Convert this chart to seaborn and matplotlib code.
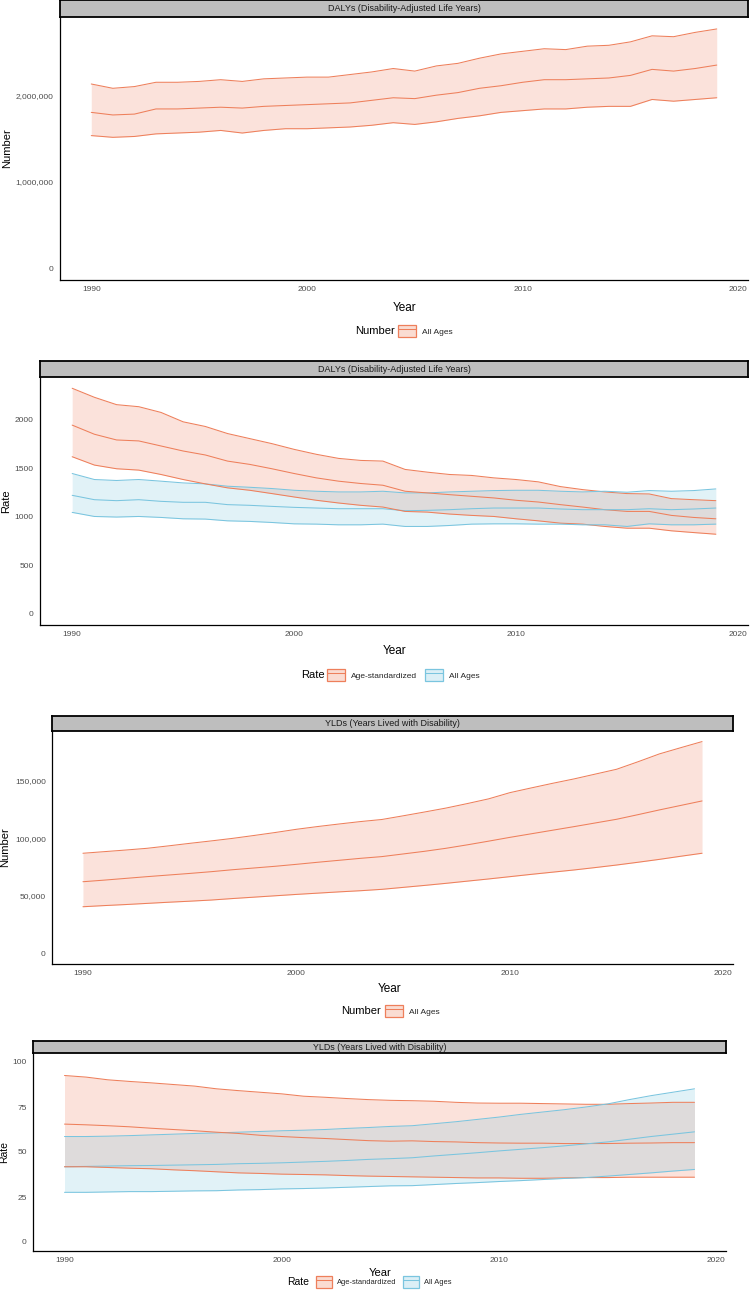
import numpy as np
import pandas as pd
import matplotlib
matplotlib.use("Agg")
import matplotlib.pyplot as plt
import seaborn as sns
from matplotlib.patches import Patch
from matplotlib.lines import Line2D
from matplotlib.ticker import FuncFormatter

years = list(range(1990, 2020))

# DALYs, number, all ages
daly_num_val = [1810000, 1780000, 1790000, 1850000, 1850000, 1860000, 1870000, 1860000, 1880000, 1890000,
                1900000, 1910000, 1920000, 1950000, 1980000, 1970000, 2010000, 2040000, 2090000, 2120000,
                2160000, 2190000, 2190000, 2200000, 2210000, 2240000, 2310000, 2290000, 2320000, 2360000]
daly_num_upper = [2140000, 2090000, 2110000, 2160000, 2160000, 2170000, 2190000, 2170000, 2200000, 2210000,
                  2220000, 2220000, 2250000, 2280000, 2320000, 2290000, 2350000, 2380000, 2440000, 2490000,
                  2520000, 2550000, 2540000, 2580000, 2590000, 2630000, 2700000, 2690000, 2740000, 2780000]
daly_num_lower = [1540000, 1520000, 1530000, 1560000, 1570000, 1580000, 1600000, 1570000, 1600000, 1620000,
                  1620000, 1630000, 1640000, 1660000, 1690000, 1670000, 1700000, 1740000, 1770000, 1810000,
                  1830000, 1850000, 1850000, 1870000, 1880000, 1880000, 1960000, 1940000, 1960000, 1980000]

# DALYs, rate, age-standardized
daly_asr_val = [1945, 1851, 1792, 1782, 1730, 1678, 1637, 1574, 1540, 1495, 1446, 1401, 1367, 1343, 1325,
                1263, 1246, 1228, 1211, 1194, 1170, 1152, 1125, 1100, 1073, 1055, 1055, 1014, 993, 979]
daly_asr_upper = [2325, 2232, 2156, 2135, 2076, 1979, 1931, 1858, 1806, 1754, 1695, 1644, 1602, 1581, 1574,
                  1488, 1460, 1436, 1426, 1401, 1384, 1360, 1311, 1280, 1256, 1239, 1235, 1187, 1176, 1166]
daly_asr_lower = [1619, 1533, 1495, 1481, 1436, 1384, 1339, 1298, 1273, 1239, 1204, 1170, 1142, 1118, 1100,
                  1055, 1048, 1028, 1014, 1003, 979, 958, 934, 924, 900, 882, 882, 855, 837, 820]
# DALYs, rate, all ages
daly_all_val = [1221, 1176, 1166, 1176, 1159, 1149, 1149, 1125, 1118, 1107, 1097, 1090, 1083, 1083, 1083,
                1062, 1066, 1073, 1083, 1090, 1090, 1090, 1080, 1073, 1073, 1073, 1083, 1073, 1080, 1090]
daly_all_upper = [1446, 1384, 1374, 1384, 1367, 1349, 1339, 1315, 1304, 1291, 1273, 1263, 1256, 1256, 1263,
                  1246, 1246, 1256, 1263, 1270, 1273, 1273, 1263, 1256, 1263, 1253, 1270, 1263, 1270, 1287]
daly_all_lower = [1045, 1003, 997, 1003, 993, 979, 976, 958, 952, 941, 927, 924, 917, 917, 924,
                  900, 900, 910, 924, 927, 927, 924, 924, 917, 917, 900, 927, 917, 917, 924]

# YLDs, number, all ages
yld_num_val = [62200, 63600, 65100, 66600, 68000, 69400, 70900, 72600, 74100, 75600, 77300, 79100, 80800, 82500,
               84000, 86300, 88600, 91200, 94200, 97400, 100700, 103800, 106900, 110000, 113200, 116400,
               120400, 124500, 128400, 132300]
yld_num_upper = [86900, 88300, 89700, 91200, 93300, 95500, 97600, 99800, 102300, 104900, 107700, 110100, 112300,
                 114400, 116200, 119400, 122700, 126100, 130000, 134100, 139500, 143600, 147600, 151400, 155600,
                 159800, 166300, 173100, 178500, 183800]
yld_num_lower = [40500, 41500, 42400, 43400, 44400, 45300, 46300, 47600, 48800, 50000, 51200, 52300, 53400, 54400,
                 55600, 57300, 59000, 60800, 62700, 64600, 66600, 68600, 70500, 72400, 74500, 76700, 79100,
                 81600, 84300, 86900]

# YLDs, rate, age-standardized
yld_asr_val = [65.5, 65.1, 64.6, 64.0, 63.2, 62.5, 61.8, 61.0, 60.3, 59.3, 58.6, 58.0, 57.5, 56.9, 56.3,
               56.0, 56.2, 55.8, 55.6, 55.2, 55.0, 54.9, 54.9, 54.7, 54.7, 54.7, 54.9, 55.0, 55.2, 55.2]
yld_asr_upper = [92.5, 91.6, 90.1, 89.2, 88.4, 87.5, 86.6, 85.1, 84.1, 83.2, 82.3, 81.0, 80.4, 79.7, 79.1,
                 78.7, 78.5, 78.2, 77.6, 77.2, 77.1, 77.1, 76.9, 76.7, 76.5, 76.5, 76.9, 77.2, 77.6, 77.6]
yld_asr_lower = [41.8, 41.8, 41.4, 41.0, 40.7, 40.1, 39.6, 39.0, 38.4, 38.1, 37.7, 37.5, 37.3, 36.9, 36.6,
                 36.4, 36.2, 36.0, 35.8, 35.6, 35.6, 35.4, 35.4, 35.6, 35.8, 35.8, 36.0, 36.0, 36.0, 36.0]
# YLDs, rate, all ages
yld_all_val = [41.8, 42.0, 42.2, 42.4, 42.5, 42.7, 42.9, 43.1, 43.5, 43.7, 44.0, 44.4, 44.8, 45.3, 45.9,
               46.3, 46.8, 47.8, 48.7, 49.6, 50.6, 51.5, 52.4, 53.4, 54.5, 55.6, 57.1, 58.6, 59.9, 61.2]
yld_all_upper = [58.6, 58.6, 58.8, 59.1, 59.5, 59.9, 60.3, 60.6, 61.0, 61.4, 61.8, 62.1, 62.5, 63.1, 63.6,
                 64.2, 64.6, 65.7, 66.8, 68.1, 69.4, 70.9, 72.2, 73.5, 75.0, 76.7, 79.1, 81.3, 83.2, 85.1]
yld_all_lower = [27.6, 27.6, 27.8, 28.0, 28.0, 28.2, 28.4, 28.5, 28.9, 29.1, 29.5, 29.7, 30.0, 30.4, 30.8,
                 31.2, 31.3, 31.9, 32.5, 33.0, 33.6, 34.1, 34.7, 35.3, 35.8, 36.6, 37.5, 38.4, 39.4, 40.3]

ORANGE = "#EE7F5B"
BLUE = "#7AC5DF"
FILL_ALPHA = 0.22

W, H = 750, 1297

sns.set_theme(style="white")
plt.rcParams["font.family"] = ["Liberation Sans", "DejaVu Sans"]

fig = plt.figure(figsize=(W / 100, H / 100), dpi=100)


def px_rect(left, top, right, bottom):
    return [left / W, 1 - bottom / H, (right - left) / W, (bottom - top) / H]


def draw_panel(box, strip_top, strip_title, ylabel, series, yticks, ytop, comma,
               legend_title, title_right, legend_left, legend_y, year_xy, ylab_x, fs):
    left, top, right, bottom = box
    ax = fig.add_axes(px_rect(left, top, right, bottom))

    rows = []
    for name, val, lo, up, col in series:
        rows.append(pd.DataFrame({"year": years, "val": val, "lower": lo, "upper": up, "group": name}))
    df = pd.concat(rows, ignore_index=True)
    palette = {s[0]: s[4] for s in series}

    # ribbons first, then lines on top (ggplot order)
    for name, val, lo, up, col in series:
        sub = df[df["group"] == name]
        ax.fill_between(sub["year"], sub["lower"], sub["upper"], color=col, alpha=FILL_ALPHA, lw=0)
    for col_name in ["upper", "val", "lower"]:
        sns.lineplot(data=df, x="year", y=col_name, hue="group", palette=palette,
                     lw=0.75, legend=False, ax=ax)

    ax.set_xlim(1990 - 1.45, 2019 + 1.45)
    ax.set_ylim(-0.05 * ytop, ytop * 1.05)
    ax.set_xticks([1990, 2000, 2010, 2020])
    ax.set_yticks(yticks)
    if comma:
        ax.yaxis.set_major_formatter(FuncFormatter(lambda v, p: f"{int(v):,}"))
    else:
        ax.yaxis.set_major_formatter(FuncFormatter(lambda v, p: f"{int(v)}"))

    for side in ["top", "right"]:
        ax.spines[side].set_visible(False)
    for side in ["left", "bottom"]:
        ax.spines[side].set_color("black")
        ax.spines[side].set_linewidth(0.9)
    ax.tick_params(axis="both", which="both", direction="out", length=2.5, width=0.6,
                   color="#333333", labelsize=fs["tick"], labelcolor="#4D4D4D", pad=2)
    ax.grid(False)

    ax.set_xlabel("Year", fontsize=fs["axis"], color="black")
    ax.set_ylabel(ylabel, fontsize=fs["axis"] - 0.5, color="black")
    ax.xaxis.set_label_coords((year_xy[0] - left) / (right - left),
                              (bottom - year_xy[1]) / (bottom - top))
    ax.yaxis.set_label_coords((ylab_x - left) / (right - left), 0.5)

    # facet strip
    sax = fig.add_axes(px_rect(left, strip_top, right, top))
    sax.set_facecolor("#BEBEBE")
    sax.set_xticks([])
    sax.set_yticks([])
    for sp in sax.spines.values():
        sp.set_visible(True)
        sp.set_color("black")
        sp.set_linewidth(1.3)
    sax.text(0.5, 0.5, strip_title, ha="center", va="center", fontsize=fs["strip"],
             color="#1A1A1A", transform=sax.transAxes)

    # legend (title on the left, as in ggplot bottom legends)
    fig.text(title_right / W, 1 - legend_y / H, legend_title, ha="right", va="center",
             fontsize=fs["ltitle"], color="black")
    handles = []
    labels = []
    for name, val, lo, up, col in series:
        patch = Patch(facecolor=col, alpha=FILL_ALPHA + 0.05, edgecolor="none")
        box_edge = Patch(facecolor="none", edgecolor=col, lw=0.9)
        line = Line2D([], [], color=col, lw=0.75)
        handles.append((patch, box_edge, line))
        labels.append(name)
    fig.legend(handles, labels, loc="center left",
               bbox_to_anchor=(legend_left / W, 1 - legend_y / H),
               ncol=len(series), frameon=False, fontsize=fs["ltext"],
               handlelength=fs["hl"], handleheight=fs["hh"], handletextpad=0.7,
               columnspacing=0.9, borderpad=0, borderaxespad=0)
    return ax


fs_big = dict(tick=6, axis=8.5, strip=6.5, ltitle=8, ltext=6, hl=2.2, hh=2.0)
fs_small = dict(tick=6, axis=8, strip=6.4, ltitle=7.5, ltext=5.4, hl=2.1, hh=2.0)

draw_panel((60, 17, 748, 280), 0, "DALYs (Disability-Adjusted Life Years)", "Number",
           [("All Ages", daly_num_val, daly_num_lower, daly_num_upper, ORANGE)],
           [0, 1000000, 2000000], max(daly_num_upper), True,
           "Number", 395, 398, 331, (405, 302), 12, fs_big)

draw_panel((40, 377, 748, 625), 361, "DALYs (Disability-Adjusted Life Years)", "Rate",
           [("Age-standardized", daly_asr_val, daly_asr_lower, daly_asr_upper, ORANGE),
            ("All Ages", daly_all_val, daly_all_lower, daly_all_upper, BLUE)],
           [0, 500, 1000, 1500, 2000], max(daly_asr_upper), False,
           "Rate", 325, 327, 675, (395, 645), 11, fs_big)

draw_panel((52, 731, 733, 964), 716, "YLDs (Years Lived with Disability)", "Number",
           [("All Ages", yld_num_val, yld_num_lower, yld_num_upper, ORANGE)],
           [0, 50000, 100000, 150000], max(yld_num_upper), True,
           "Number", 381, 385, 1011, (390, 983), 10, fs_big)

draw_panel((33, 1053, 726, 1251), 1041, "YLDs (Years Lived with Disability)", "Rate",
           [("Age-standardized", yld_asr_val, yld_asr_lower, yld_asr_upper, ORANGE),
            ("All Ages", yld_all_val, yld_all_lower, yld_all_upper, BLUE)],
           [0, 25, 50, 75, 100], 100, False,
           "Rate", 309, 316, 1282, (380, 1268), 9, fs_small)

fig.savefig("out.png", dpi=100)
